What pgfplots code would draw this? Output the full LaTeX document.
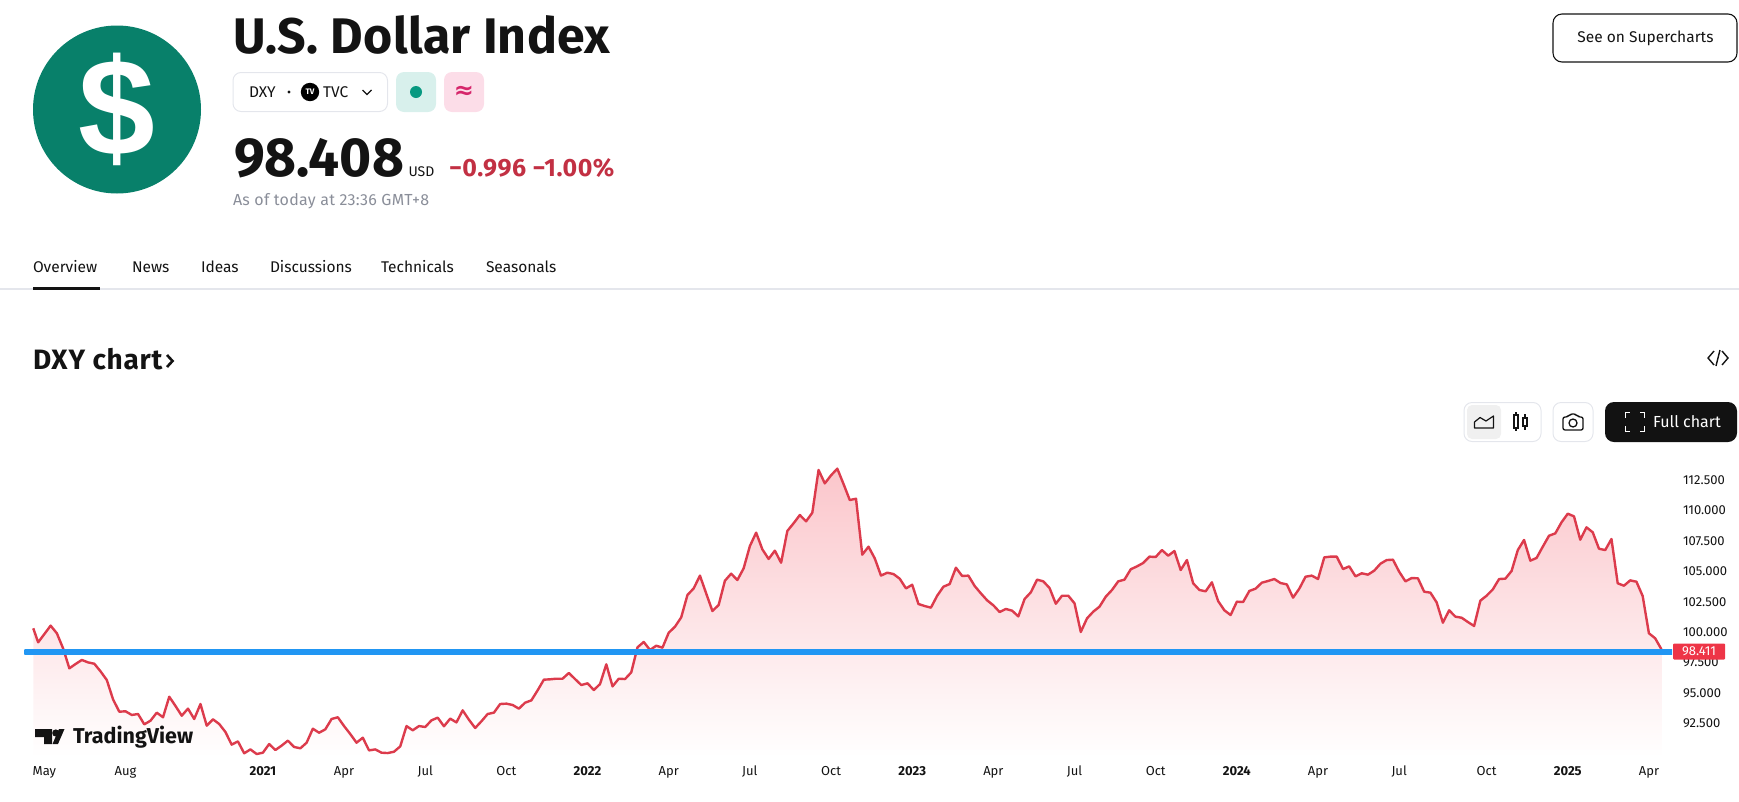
\documentclass[border=0pt]{standalone}
\usepackage{pgfplots}
\usepackage{pgfplotstable}
\usepackage{fontspec}
\pgfplotsset{compat=1.18}
\setmainfont{Fira Sans}
\newfontfamily\arialb{Liberation Sans}[BoldFont=* Bold]
\newfontfamily\dejavu{DejaVu Sans}
\newcommand\fs[1]{\fontsize{#1}{#1}\selectfont}
\definecolor{tvred}{HTML}{DC3B4C}
\definecolor{tvfill}{HTML}{FBC6CB}
\definecolor{tvlabel}{HTML}{EE3547}
\definecolor{tvblue}{HTML}{2196F3}
\definecolor{tvgreen}{HTML}{08806A}
\definecolor{tvdot}{HTML}{089981}
\definecolor{tvink}{HTML}{131313}
\definecolor{tvborder}{HTML}{E4E6EC}
\definecolor{tvgrey}{HTML}{8A8E99}
\definecolor{tvdown}{HTML}{C23043}
\definecolor{tvgbox}{HTML}{D8F0EC}
\definecolor{tvpbox}{HTML}{FCDDE8}
\definecolor{tvpink}{HTML}{D6266B}
\pgfplotstableread[row sep=\\]{
x y\\
0.22 100.32\\ 1 99.17\\ 2 99.85\\ 3 100.54\\ 4 99.91\\ 5 98.67\\ 6 97.03\\ 7 97.39\\ 8 97.72\\ 9 97.52\\
10 97.41\\ 11 96.78\\ 12 96.07\\ 13 94.48\\ 14 93.47\\ 15 93.50\\ 16 93.20\\ 17 93.28\\ 18 92.43\\ 19 92.73\\
20 93.39\\ 21 93.01\\ 22 94.70\\ 23 93.94\\ 24 93.14\\ 25 93.72\\ 26 92.87\\ 27 94.10\\ 28 92.32\\ 29 92.84\\
30 92.46\\ 31 91.80\\ 32 90.76\\ 33 91.03\\ 34 90.05\\ 35 90.37\\ 36 89.99\\ 37 90.10\\ 38 90.81\\ 39 90.32\\
40 90.68\\ 41 91.09\\ 42 90.57\\ 43 90.46\\ 44 90.92\\ 45 92.07\\ 46 91.74\\ 47 92.02\\ 48 92.87\\ 49 93.01\\
50 92.29\\ 51 91.63\\ 52 90.92\\ 53 91.33\\ 54 90.29\\ 55 90.37\\ 56 90.10\\ 57 90.07\\ 58 90.18\\ 59 90.62\\
60 92.29\\ 61 91.94\\ 62 92.29\\ 63 92.21\\ 64 92.76\\ 65 92.98\\ 66 92.27\\ 67 92.90\\ 68 92.59\\ 69 93.58\\
70 92.81\\ 71 92.13\\ 72 92.68\\ 73 93.28\\ 74 93.39\\ 75 94.10\\ 76 94.13\\ 77 94.02\\ 78 93.72\\ 79 94.21\\
80 94.40\\ 81 95.22\\ 82 96.10\\ 83 96.13\\ 84 96.18\\ 85 96.18\\ 86 96.65\\ 87 96.15\\ 88 95.66\\ 89 95.80\\
90 95.25\\ 91 95.74\\ 92 97.36\\ 93 95.55\\ 94 96.18\\ 95 96.15\\ 96 96.70\\ 97 98.76\\ 98 99.20\\ 99 98.54\\
100 98.89\\ 101 98.73\\ 102 99.96\\ 103 100.45\\ 104 101.22\\ 105 103.06\\ 106 103.60\\ 107 104.65\\ 108 103.19\\ 109 101.74\\
110 102.24\\ 111 104.23\\ 112 104.81\\ 113 104.29\\ 114 105.25\\ 115 107.08\\ 116 108.18\\ 117 106.81\\ 118 106.02\\ 119 106.70\\
120 105.71\\ 121 108.32\\ 122 108.95\\ 123 109.63\\ 124 109.11\\ 125 109.82\\ 126 113.33\\ 127 112.23\\ 128 112.89\\ 129 113.44\\
130 112.18\\ 131 110.86\\ 132 110.97\\ 133 106.37\\ 134 107.03\\ 135 106.07\\ 136 104.65\\ 137 104.89\\ 138 104.78\\ 139 104.40\\
140 103.60\\ 141 103.90\\ 142 102.32\\ 143 102.15\\ 144 102.02\\ 145 103.00\\ 146 103.74\\ 147 103.96\\ 148 105.30\\ 149 104.62\\
150 104.65\\ 151 103.80\\ 152 103.19\\ 153 102.62\\ 154 102.21\\ 155 101.66\\ 156 101.91\\ 157 101.77\\ 158 101.30\\ 159 102.73\\
160 103.28\\ 161 104.32\\ 162 104.18\\ 163 103.63\\ 164 102.34\\ 165 103.00\\ 166 103.00\\ 167 102.37\\ 168 100.02\\ 169 101.14\\
170 101.69\\ 171 102.10\\ 172 102.92\\ 173 103.47\\ 174 104.18\\ 175 104.32\\ 176 105.17\\ 177 105.41\\ 178 105.69\\ 179 106.21\\
180 106.18\\ 181 106.75\\ 182 106.29\\ 183 106.67\\ 184 105.11\\ 185 105.93\\ 186 104.02\\ 187 103.47\\ 188 103.36\\ 189 104.10\\
190 102.56\\ 191 101.80\\ 192 101.41\\ 193 102.51\\ 194 102.48\\ 195 103.39\\ 196 103.58\\ 197 104.07\\ 198 104.21\\ 199 104.37\\
200 104.04\\ 201 103.93\\ 202 102.84\\ 203 103.58\\ 204 104.56\\ 205 104.65\\ 206 104.37\\ 207 106.15\\ 208 106.21\\ 209 106.21\\
210 105.19\\ 211 105.41\\ 212 104.59\\ 213 104.84\\ 214 104.73\\ 215 105.06\\ 216 105.63\\ 217 105.93\\ 218 105.96\\ 219 104.97\\
220 104.18\\ 221 104.45\\ 222 104.43\\ 223 103.33\\ 224 103.25\\ 225 102.45\\ 226 100.78\\ 227 101.80\\ 228 101.28\\ 229 101.19\\
230 100.84\\ 231 100.51\\ 232 102.59\\ 233 103.00\\ 234 103.52\\ 235 104.37\\ 236 104.40\\ 237 105.03\\ 238 106.75\\ 239 107.58\\
240 105.88\\ 241 106.10\\ 242 107.03\\ 243 107.93\\ 244 108.12\\ 245 109.03\\ 246 109.74\\ 247 109.52\\ 248 107.60\\ 249 108.62\\
250 108.21\\ 251 106.86\\ 252 106.75\\ 253 107.66\\ 254 104.02\\ 255 103.82\\ 256 104.26\\ 257 104.15\\ 258 102.97\\ 259 99.91\\
260 99.50\\ 261 98.60\\
}\dxy
\pgfplotstableread[row sep=\\]{
x y\\
-1.0 98.35\\ 262.7 98.35\\
}\cur
\begin{document}
\begin{tikzpicture}[x=1pt,y=-1pt,every node/.style={inner sep=0pt,outer sep=0pt}]
\useasboundingbox (0,0) rectangle (1739,801);
% --- chart
\begin{axis}[
  at={(24pt,-757pt)},anchor=south west,
  scale only axis,width=1648pt,height=297pt,
  xmin=-1.265,xmax=262.7,ymin=89.745,ymax=114.15,
  axis line style={draw=none},tick style={draw=none},major tick length=0pt,
  ytick={92.5,95,97.5,100,102.5,105,107.5,110,112.5},
  yticklabels={92.500,95.000,97.500,100.000,102.500,105.000,107.500,110.000,112.500},
  ytick pos=right,yticklabel pos=right,
  yticklabel style={anchor=west,xshift=11pt,inner sep=0pt,font=\fs{13}\color{tvink}},
  xtick={2,15,37,50,63,76,89,102,115,128,141,154,167,180,193,206,219,233,246,259},
  xticklabels={May,Aug,\textbf{2021},Apr,Jul,Oct,\textbf{2022},Apr,Jul,Oct,\textbf{2023},Apr,Jul,Oct,\textbf{2024},Apr,Jul,Oct,\textbf{2025},Apr},
  xticklabel style={anchor=base,yshift=-18pt,inner sep=0pt,font=\fs{13}\color{tvink}},
]
\addplot[draw=none,top color=tvfill,bottom color=white] table[x=x,y=y]{\dxy} \closedcycle;
\addplot[tvred,line width=2.4pt,line join=round] table[x=x,y=y]{\dxy};
\addplot[tvblue,line width=6pt,line cap=round] table[x=x,y=y]{\cur};
\end{axis}
% price label
\fill[rounded corners=1pt,fill=tvlabel] (1673,643.5) rectangle (1725,659.5);
\node[text=white,font=\fs{13}] at (1699,651.5) {98.411};
% logo
\fill[tvink] (35,729) -- (52,729) -- (52,744) -- (44,744) -- (44,737) -- (35,737) -- cycle;
\fill[tvink] (55.8,733) circle (3.6);
\fill[tvink] (59,729) -- (64.5,729) -- (58,744) -- (52.5,744) -- cycle;
\node[anchor=base west,font=\fs{21.5}\bfseries,text=tvink] at (73,743) {TradingView};
% --- header
\fill[tvgreen] (117,109.5) circle (84);
\node[text=white,font=\arialb\bfseries\fs{138}] at (117,109.5) {\$};
\node[anchor=base west,font=\fs{50}\bfseries\addfontfeature{LetterSpace=0.6},text=tvink] at (233,53) {U.S. Dollar Index};
\draw[tvborder,line width=1pt,rounded corners=8pt] (233,72.5) rectangle (387.5,111.5);
\node[anchor=base west,font=\fs{15.5},text=tvink] at (249,97) {DXY};
\fill[tvink] (289,92) circle (1.6);
\fill[black] (310,92) circle (9.2);
\node[text=white,font=\fs{8}\bfseries] at (310,92) {TV};
\node[anchor=base west,font=\fs{15.5},text=tvink] at (323,97) {TVC};
\draw[tvink,line width=1.3pt] (362.5,90) -- (367,94.5) -- (371.5,90);
\fill[fill=tvgbox,rounded corners=8pt] (396,72) rectangle (436,112);
\fill[tvdot] (416,92) circle (6);
\fill[fill=tvpbox,rounded corners=8pt] (444,72) rectangle (484,112);
\node[text=tvpink,font=\dejavu\bfseries\fs{24}] at (464,92) {≈};
\node[anchor=base west,font=\fs{55}\bfseries,text=tvink] at (234,176) {98.408};
\node[anchor=base west,font=\fs{14},text=tvink] at (408.5,176) {USD};
\node[anchor=base west,font=\fs{25}\bfseries\addfontfeature{LetterSpace=2},text=tvdown] at (449,176) {−0.996 −1.00\%};
\node[anchor=base west,font=\fs{16}\addfontfeature{LetterSpace=1.7},text=tvgrey] at (233,205) {As of today at 23:36 GMT+8};
% tabs
\fill[tvborder] (0,288) rectangle (1739,290);
\fill[tvink] (33,287) rectangle (100,290);
\foreach \xx/\lab in {33/Overview,132/News,201/Ideas,270/Discussions,381/Technicals,486/Seasonals}
  \node[anchor=base west,font=\fs{15.5},text=tvink] at (\xx,272) {\lab};
% section heading
\node[anchor=base west,font=\fs{28}\bfseries\addfontfeature{LetterSpace=2.7},text=tvink] at (33,369) {DXY chart};
\draw[tvink,line width=2.6pt] (167,355) -- (172.5,361) -- (167,367);
% embed icon
\draw[tvink,line width=1.4pt] (1714,351) -- (1708,358) -- (1714,365);
\draw[tvink,line width=1.4pt] (1722,351) -- (1728,358) -- (1722,365);
\draw[tvink,line width=1.4pt] (1720,350) -- (1716,366);
% see on supercharts
\draw[tvink,line width=1.1pt,rounded corners=9pt] (1553,14) rectangle (1737,62);
\node[font=\fs{15.5},text=tvink] at (1645.5,38) {See on Supercharts};
% chart-type pill
\draw[tvborder,line width=1pt,rounded corners=8pt] (1464,402.5) rectangle (1541,441.5);
\fill[black!6,rounded corners=5pt] (1467,405) rectangle (1501,439);
\draw[tvink,line width=1.2pt,line join=round] (1474.5,428) -- (1474.5,422) -- (1480,417.5) -- (1486,421) -- (1493.5,416) -- (1493.5,428) -- cycle;
\draw[tvink,line width=1.2pt] (1514,415) rectangle (1518,428);
\draw[tvink,line width=1.2pt] (1516,412) -- (1516,415) (1516,428) -- (1516,431);
\draw[tvink,line width=1.2pt] (1523,418) rectangle (1527,426);
\draw[tvink,line width=1.2pt] (1525,414) -- (1525,418) (1525,426) -- (1525,430);
% camera
\draw[tvborder,line width=1pt,rounded corners=8pt] (1553,402.5) rectangle (1593,441.5);
\draw[tvink,line width=1.3pt,rounded corners=2pt] (1563,417) -- (1568,417) -- (1570,414) -- (1576,414) -- (1578,417) -- (1583,417) -- (1583,430) -- (1563,430) -- cycle;
\draw[tvink,line width=1.3pt] (1573,423) circle (4);
% full chart
\fill[black!93,rounded corners=9pt] (1605,402) rectangle (1737,442);
\draw[white,line width=1.8pt] (1625.5,418) -- (1625.5,412.5) -- (1630,412.5) (1640,412.5) -- (1644.5,412.5) -- (1644.5,418)
  (1644.5,426) -- (1644.5,431.5) -- (1640,431.5) (1630,431.5) -- (1625.5,431.5) -- (1625.5,426);
\node[anchor=west,font=\fs{16},text=white] at (1653,422) {Full chart};
\end{tikzpicture}
\end{document}
